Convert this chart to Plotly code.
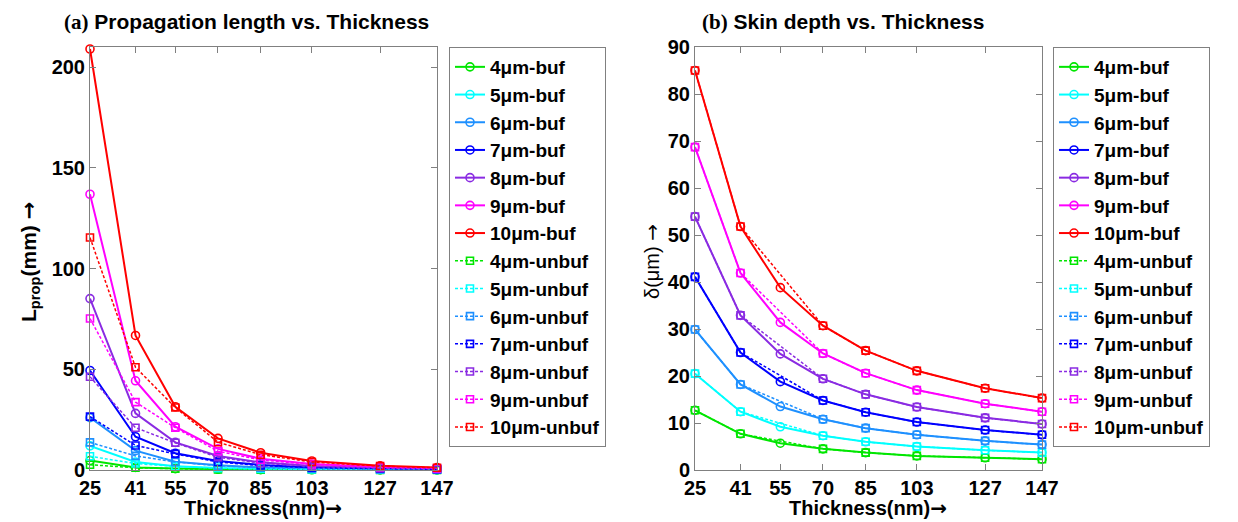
import plotly.graph_objects as go

# ---------------- data ----------------
thickness = [25, 41, 55, 70, 85, 103, 127, 147]
wire_widths = ["4", "5", "6", "7", "8", "9", "10"]
colors = ["#00E600", "#00FFFF", "#1E90FF", "#0000FF", "#8A2BE2", "#FF00FF", "#FF0000"]

# (a) propagation length (mm), buffered
lprop_buf_4 = [4.7, 1.3, 0.7, 0.35, 0.2, 0.12, 0.06, 0.04]
lprop_buf_5 = [12.0, 4.0, 1.9, 1.0, 0.6, 0.32, 0.17, 0.1]
lprop_buf_6 = [26.0, 9.6, 4.1, 2.3, 1.3, 0.7, 0.37, 0.22]
lprop_buf_7 = [49.4, 16.5, 8.3, 4.5, 2.5, 1.3, 0.7, 0.42]
lprop_buf_8 = [85.1, 28.1, 13.7, 7.0, 3.8, 2.0, 1.05, 0.62]
lprop_buf_9 = [136.9, 44.3, 21.5, 10.5, 5.6, 3.0, 1.5, 0.9]
lprop_buf_10 = [209.0, 66.8, 31.4, 15.7, 8.6, 4.5, 2.1, 1.2]
# (a) propagation length (mm), unbuffered
lprop_unbuf_4 = [2.6, 1.1, 0.6, 0.3, 0.17, 0.1, 0.05, 0.03]
lprop_unbuf_5 = [6.8, 3.2, 1.8, 0.9, 0.5, 0.28, 0.15, 0.09]
lprop_unbuf_6 = [13.7, 7.0, 4.0, 2.1, 1.2, 0.62, 0.33, 0.2]
lprop_unbuf_7 = [26.5, 12.2, 8.0, 4.0, 2.2, 1.2, 0.62, 0.37]
lprop_unbuf_8 = [46.3, 21.0, 13.5, 6.3, 3.4, 1.8, 0.95, 0.55]
lprop_unbuf_9 = [75.2, 33.7, 21.0, 9.3, 5.0, 2.7, 1.35, 0.8]
lprop_unbuf_10 = [115.4, 51.0, 31.0, 13.8, 7.6, 4.0, 1.9, 1.1]

# (b) skin depth (um), buffered
delta_buf_4 = [12.7, 7.7, 5.7, 4.5, 3.7, 3.0, 2.6, 2.3]
delta_buf_5 = [20.5, 12.4, 9.2, 7.3, 6.0, 5.0, 4.2, 3.7]
delta_buf_6 = [29.9, 18.2, 13.5, 10.8, 8.9, 7.5, 6.2, 5.4]
delta_buf_7 = [41.1, 25.0, 18.8, 14.8, 12.3, 10.2, 8.5, 7.5]
delta_buf_8 = [53.9, 32.9, 24.7, 19.4, 16.1, 13.4, 11.1, 9.8]
delta_buf_9 = [68.7, 41.9, 31.4, 24.8, 20.6, 17.0, 14.1, 12.4]
delta_buf_10 = [85.0, 51.8, 38.8, 30.7, 25.4, 21.1, 17.4, 15.3]
# (b) skin depth (um), unbuffered (no point at 55 nm)
delta_unbuf_4 = [12.7, 7.7, None, 4.5, 3.7, 3.0, 2.6, 2.3]
delta_unbuf_5 = [20.5, 12.4, None, 7.3, 6.0, 5.0, 4.2, 3.7]
delta_unbuf_6 = [29.9, 18.2, None, 10.8, 8.9, 7.5, 6.2, 5.4]
delta_unbuf_7 = [41.1, 25.0, None, 14.8, 12.3, 10.2, 8.5, 7.5]
delta_unbuf_8 = [53.9, 32.9, None, 19.4, 16.1, 13.4, 11.1, 9.8]
delta_unbuf_9 = [68.7, 41.9, None, 24.8, 20.6, 17.0, 14.1, 12.4]
delta_unbuf_10 = [85.0, 51.8, None, 30.7, 25.4, 21.1, 17.4, 15.3]

lprop_buf = [lprop_buf_4, lprop_buf_5, lprop_buf_6, lprop_buf_7, lprop_buf_8, lprop_buf_9, lprop_buf_10]
lprop_unbuf = [lprop_unbuf_4, lprop_unbuf_5, lprop_unbuf_6, lprop_unbuf_7, lprop_unbuf_8, lprop_unbuf_9, lprop_unbuf_10]
delta_buf = [delta_buf_4, delta_buf_5, delta_buf_6, delta_buf_7, delta_buf_8, delta_buf_9, delta_buf_10]
delta_unbuf = [delta_unbuf_4, delta_unbuf_5, delta_unbuf_6, delta_unbuf_7, delta_unbuf_8, delta_unbuf_9, delta_unbuf_10]

# ---------------- figure ----------------
W, H = 1238, 522
FONT = "Liberation Sans, Arial, sans-serif"
fig = go.Figure()


def add_panel(buf, unbuf, xa, ya, leg):
    for w, c, ys in zip(wire_widths, colors, buf):
        fig.add_trace(go.Scatter(
            x=thickness, y=ys, xaxis=xa, yaxis=ya, legend=leg,
            name=f"{w}\u03bcm-buf", mode="lines+markers", cliponaxis=False,
            line=dict(color=c, width=2),
            marker=dict(symbol="circle-open", size=8, color=c, line=dict(width=1.6)),
        ))
    for w, c, ys in zip(wire_widths, colors, unbuf):
        fig.add_trace(go.Scatter(
            x=thickness, y=ys, xaxis=xa, yaxis=ya, legend=leg,
            name=f"{w}\u03bcm-unbuf", mode="lines+markers", cliponaxis=False,
            connectgaps=True,
            line=dict(color=c, width=1.5, dash="3px,2px"),
            marker=dict(symbol="square-open", size=7, color=c, line=dict(width=1.6)),
        ))


add_panel(lprop_buf, lprop_unbuf, "x", "y", "legend")
add_panel(delta_buf, delta_unbuf, "x2", "y2", "legend2")

ydom = [1 - 470 / H, 1 - 47 / H]
axis_common = dict(
    showline=True, linecolor="#808080", linewidth=1, mirror="ticks",
    ticks="inside", ticklen=6, tickcolor="#808080", showgrid=False, zeroline=False,
    tickfont=dict(family=FONT, size=20, color="black", weight="bold"),
    automargin=False,
)
legend_common = dict(
    y=1 - 47 / H, xanchor="left", yanchor="top",
    bordercolor="#808080", borderwidth=1, bgcolor="white", tracegroupgap=0,
    font=dict(family=FONT, size=19, color="black", weight="bold"),
)
fig.update_layout(
    width=W, height=H,
    margin=dict(l=0, r=0, t=0, b=0),
    paper_bgcolor="white", plot_bgcolor="white",
    font=dict(family=FONT, color="black"),
    xaxis=dict(domain=[90 / W, 437 / W], range=[25, 147], tickvals=thickness, anchor="y", **axis_common),
    yaxis=dict(domain=ydom, range=[0, 210], tickvals=[0, 50, 100, 150, 200], anchor="x", **axis_common),
    xaxis2=dict(domain=[695 / W, 1042 / W], range=[25, 147], tickvals=thickness, anchor="y2", **axis_common),
    yaxis2=dict(domain=ydom, range=[0, 90], tickvals=list(range(0, 91, 10)), anchor="x2", **axis_common),
    legend=dict(x=449 / W, **legend_common),
    legend2=dict(x=1053 / W, **legend_common),
    showlegend=True,
)

SERIF = "Liberation Serif, Times New Roman, serif"
ARROW = "<span style='font-family:DejaVu Sans'>\u2192</span>"
ann = [
    dict(x=62 / W, y=1 - 22 / H, xanchor="left", yanchor="middle",
         text=f"<span style='font-family:{SERIF}'>(a)</span> Propagation length vs. Thickness",
         font=dict(family=FONT, size=21, weight="bold")),
    dict(x=700 / W, y=1 - 22 / H, xanchor="left", yanchor="middle",
         text=f"<span style='font-family:{SERIF}'>(b)</span> Skin depth vs. Thickness",
         font=dict(family=FONT, size=21, weight="bold")),
    dict(x=263 / W, y=0, xanchor="center", yanchor="bottom", yshift=0,
         text="Thickness(nm)" + ARROW, font=dict(family=FONT, size=20, weight="bold")),
    dict(x=868 / W, y=0, xanchor="center", yanchor="bottom", yshift=0,
         text="Thickness(nm)" + ARROW, font=dict(family=FONT, size=20, weight="bold")),
    dict(x=30 / W, y=1 - 262 / H, xanchor="center", yanchor="middle", textangle=-90,
         text="L<sub>prop</sub>(mm) " + ARROW, font=dict(family=FONT, size=21, weight="bold")),
    dict(x=652 / W, y=1 - 262 / H, xanchor="center", yanchor="middle", textangle=-90,
         text="\u03b4(\u03bcm) " + ARROW, font=dict(family=FONT, size=20)),
]
for a in ann:
    a.update(xref="paper", yref="paper", showarrow=False)
fig.update_layout(annotations=ann)

fig.write_html("out.html")
